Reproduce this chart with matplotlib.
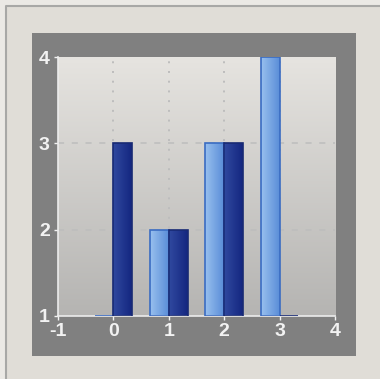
import numpy as np
import matplotlib.pyplot as plt
from matplotlib.patches import Rectangle
from matplotlib.lines import Line2D
from matplotlib.colors import LinearSegmentedColormap

plt.rcParams['font.family'] = ['Liberation Sans', 'DejaVu Sans']
plt.rcParams['axes.unicode_minus'] = False

# bar values (y axis starts at 1)
cats = [0, 1, 2, 3]
light_vals = [1, 2, 3, 4]
dark_vals = [3, 2, 3, 1]
xticks = [-1, 0, 1, 2, 3, 4]
yticks = [1, 2, 3, 4]

fig = plt.figure(figsize=(3.8, 3.79), dpi=100, facecolor='#ebe9e5')

# outer panel, its top/left border and the dark grey frame
fig.patches.append(Rectangle((6/380, 0), 374/380, 1-6/379, transform=fig.transFigure,
                             facecolor='#e0ddd7', edgecolor='none', zorder=-3))
fig.lines.append(Line2D([6/380, 6/380, 1], [0, 1-6/379, 1-6/379], transform=fig.transFigure,
                        color='#a8a8a6', lw=1.5, zorder=-2))
fig.patches.append(Rectangle((32/380, 1-356/379), 324/380, 323/379, transform=fig.transFigure,
                             facecolor='#808080', edgecolor='none', zorder=-1))

ax = fig.add_axes([58/380, 1-316/379, 277/380, 259/379])

# background gradient
grad = np.linspace(0, 1, 256).reshape(-1, 1)
ax.imshow(grad, extent=[-1, 4, 1, 4], aspect='auto', zorder=0, origin='lower',
          cmap=LinearSegmentedColormap.from_list('bg', ['#b5b4b2', '#e6e4e0']))

# grid
for x in cats:
    ax.axvline(x, color='#bdbdbd', ls=(0, (1, 4)), lw=1.4, zorder=1)
for y in [2, 3]:
    ax.axhline(y, color='#bdbdbd', ls=(0, (4, 5)), lw=1.1, zorder=1)

w = 0.34
base = 1
def grad_bars(xs, vals, c1, c2, edge):
    bars = ax.bar(xs, np.array(vals) - base, bottom=base, width=w, color='none',
                  edgecolor=edge, lw=1.2, zorder=3)
    cmap = LinearSegmentedColormap.from_list('b', [c1, c2])
    hg = np.linspace(0, 1, 64).reshape(1, -1)
    for b in bars:
        if b.get_height() <= 0:
            continue
        im = ax.imshow(hg, extent=[b.get_x(), b.get_x()+b.get_width(), base, base+b.get_height()],
                       aspect='auto', cmap=cmap, zorder=2)
        im.set_clip_path(b)
    return bars

grad_bars(np.array(cats) - w/2, light_vals, '#98c0ee', '#5a8dd8', '#3a6cc2')
grad_bars(np.array(cats) + w/2, dark_vals, '#30499f', '#142680', '#182a74')
ax.set_xlim(-1, 4)
ax.set_ylim(1, 4)

ax.set_xticks(xticks)
ax.set_yticks(yticks)
ax.tick_params(colors='#f2f2f2', labelsize=14, length=3, width=1, pad=2)
ax.tick_params(axis='y', pad=3)
for lbl in ax.get_xticklabels() + ax.get_yticklabels():
    lbl.set_fontweight('bold')
for s in ['top', 'right']:
    ax.spines[s].set_visible(False)
for s in ['left', 'bottom']:
    ax.spines[s].set_color('#ececec')
    ax.spines[s].set_linewidth(1.2)

fig.savefig('out.png', dpi=100, facecolor=fig.get_facecolor())
